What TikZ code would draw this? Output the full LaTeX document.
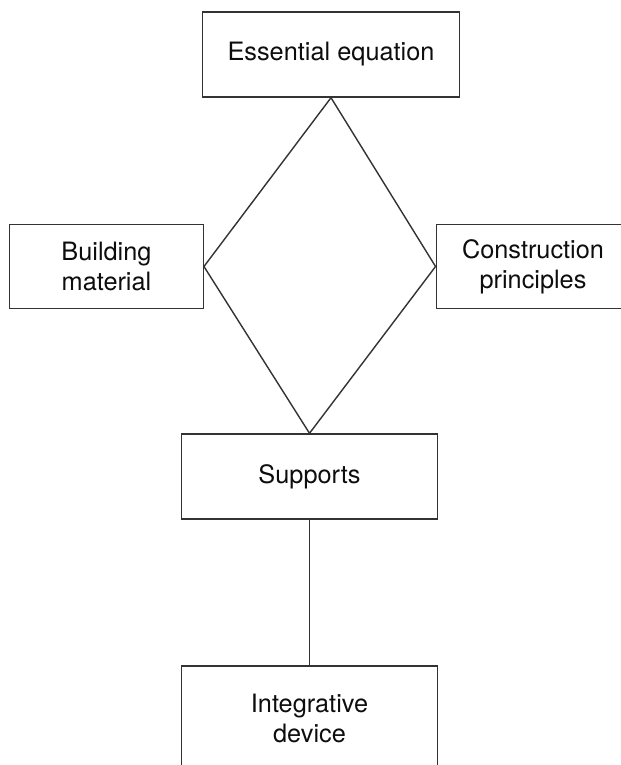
\documentclass[tikz,border=0pt]{standalone}
\usepackage{fontspec}
\setmainfont{TeX Gyre Heros}
\usepackage{tikz}

\begin{document}
\begin{tikzpicture}
[bx/.style={draw=black!80,line width=0.8pt,align=center,inner sep=0pt
  ,font=\fontsize{14.4}{17.1}\selectfont,text=black!95}
,wide/.style={bx,minimum width=5.13cm,minimum height=1.7cm}
,side/.style={bx,minimum width=3.87cm,minimum height=1.69cm}
,ln/.style={draw=black!80,line width=0.8pt}]
\useasboundingbox (0,0) rectangle (12.42,-15.3);
\node[wide] (eq) at (6.62,-1.09) {Essential equation};
\node[side] (bm) at (2.13,-5.33) {Building\\material};
\node[side] (cp) at (10.66,-5.33) {Construction\\principles};
\node[wide,minimum width=5.12cm] (sup) at (6.19,-9.53) {Supports};
\node[wide,minimum width=5.12cm,minimum height=2.1cm] (id) at (6.19,-14.37) {Integrative\\device};

\draw[ln] (eq.south) -- (bm.east) -- (sup.north) -- (cp.west) -- cycle;
\draw[ln] (sup.south) -- (id.north);
\end{tikzpicture}
\end{document}
